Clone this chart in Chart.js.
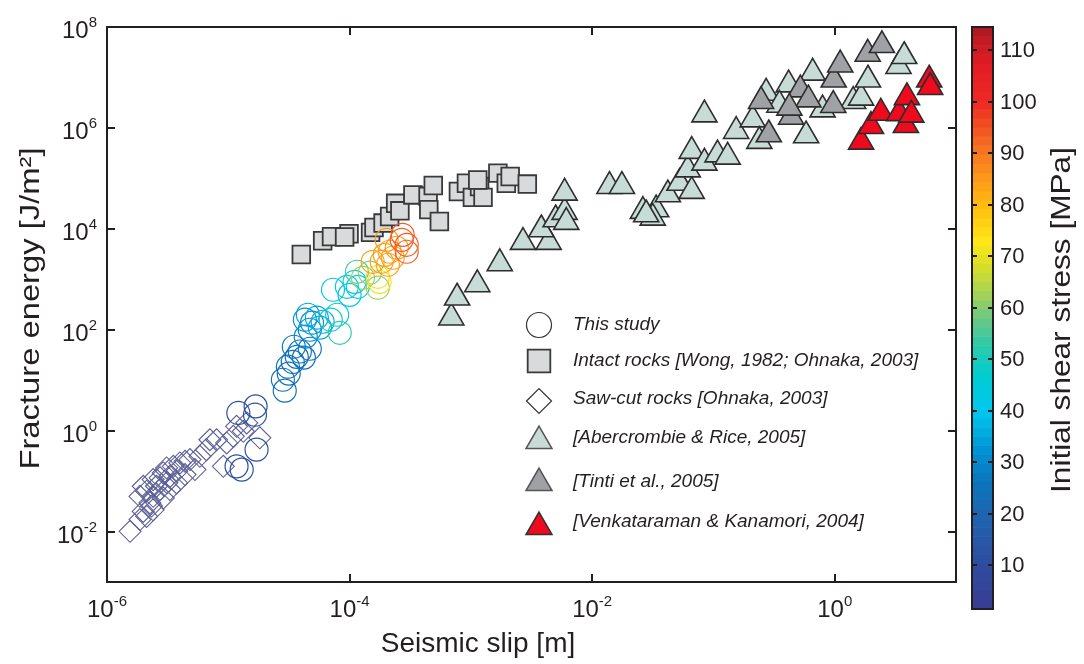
<!DOCTYPE html>
<html lang="en">
<head>
<meta charset="UTF-8">
<title>Fracture energy vs seismic slip</title>
<script src="https://cdn.jsdelivr.net/npm/chart.js@4.4.1/dist/chart.umd.min.js"></script>
<style>
  html, body { margin: 0; padding: 0; background: #fff; }
  #wrap { position: relative; width: 1084px; height: 664px; }
  #main { position: absolute; left: 0; top: 0; }
  #cbar { position: absolute; left: 940px; top: 0; }
</style>
</head>
<body>
<div id="wrap">
  <canvas id="main" width="1084" height="664"></canvas>
  <canvas id="cbar" width="144" height="664"></canvas>
</div>
<script>
/************  DATA  ************/
// This study (circles, coloured by initial shear stress)
const studySlip = [1.21e-5, 1.68e-5, 1.66e-5, 1.71e-5, 1.17e-5, 1.29e-5,
  2.92e-5, 2.82e-5, 3.15e-5, 3.10e-5, 3.40e-5, 3.67e-5, 3.89e-5, 4.2e-5, 3.47e-5, 4.7e-5,
  4.35e-5, 4.7e-5, 4.28e-5, 4.9e-5,
  4.53e-5, 5.37e-5, 5.69e-5, 6.0e-5,
  7.3e-5, 7.9e-5, 9.5e-5, 1.0e-4, 1.1e-4, 1.17e-4,
  7.0e-5, 8.3e-5, 1.15e-4,
  1.47e-4, 1.71e-4, 1.29e-4,
  1.71e-4, 1.77e-4,
  1.55e-4, 1.95e-4, 2.14e-4, 2.27e-4, 2.02e-4, 2.45e-4, 2.07e-4, 1.84e-4,
  2.74e-4, 2.96e-4, 2.69e-4, 2.96e-4];
const studyEnergy = [2.24, 3.03, 2.07, 0.42, 0.196, 0.169,
  6.2, 10.2, 13.5, 18.5, 23, 29, 37, 28, 46, 42,
  73, 100, 158, 138,
  198, 173, 110, 144,
  620, 198, 710, 490, 890, 710,
  158, 87, 1410,
  1350, 680, 1070,
  1120, 890,
  2220, 3050, 3510, 2670, 6050, 4210, 1940, 2220,
  7600, 4820, 6050, 3510];
const studyStress = [12, 12, 12, 12, 12, 12,
  24, 24, 24, 24, 24, 24, 26, 26, 27, 27,
  30, 30, 32, 32,
  35, 35, 36, 36,
  42, 42, 42, 43, 43, 43,
  49, 53, 55,
  61, 62, 62,
  72, 72,
  84, 84, 84, 84, 85, 85, 84, 84,
  94, 94, 93, 93];

// Intact rocks [Wong, 1982; Ohnaka, 2003]
const intactSlip = [4.0e-5, 6.0e-5, 7.1e-5, 9.9e-5, 9.1e-5, 1.49e-4, 1.59e-4, 1.89e-4, 2.14e-4,
  2.40e-4, 2.6e-4, 3.33e-4, 4.44e-4, 4.9e-4, 4.5e-4, 5.5e-4, 7.9e-4, 9.2e-4, 1.03e-3,
  1.18e-3, 1.26e-3, 1.67e-3, 1.96e-3, 2.11e-3, 2.92e-3, 1.14e-3];
const intactEnergy = [3.1e3, 5.8e3, 7.0e3, 8.0e3, 6.9e3, 8.5e3, 1.06e4, 1.30e4, 1.75e4,
  3.2e4, 2.27e4, 4.7e4, 4.4e4, 7.2e4, 2.4e4, 1.40e4, 5.5e4, 8.0e4, 4.2e4,
  6.9e4, 4.2e4, 1.27e5, 8.0e4, 1.09e5, 7.7e4, 9.3e4];

// Saw-cut rocks [Ohnaka, 2003]
const sawcutSlip = [1.55e-6, 1.87e-6, 1.99e-6, 2.12e-6, 2.26e-6, 2.40e-6, 2.56e-6, 2.74e-6,
  2.91e-6, 3.10e-6, 3.30e-6, 3.52e-6, 3.75e-6, 3.99e-6, 4.40e-6, 4.83e-6, 2.40e-6, 2.91e-6,
  2.12e-6, 2.33e-6, 3.30e-6, 3.75e-6, 5.83e-6, 6.6e-6, 7.05e-6, 8.0e-6, 9.1e-6, 9.7e-6,
  1.10e-5, 1.17e-5, 1.33e-5, 1.42e-5, 1.82e-5, 1.87e-6, 1.99e-6, 2.40e-6,
  2.74e-6, 4.40e-6, 5.31e-6, 3.12e-6];
const sawcutEnergy = [1.01e-2, 1.73e-2, 2.5e-2, 6.3e-2, 3.7e-2, 5.0e-2, 7.9e-2, 0.116,
  0.145, 0.182, 0.124, 0.196, 0.156, 0.229, 0.247, 0.267, 2.7e-2, 4.6e-2,
  2.0e-2, 3.2e-2, 6.8e-2, 9.2e-2, 0.31, 0.42, 0.66, 0.66, 0.196, 0.57,
  0.77, 1.22, 0.97, 1.42, 0.72, 5.0e-2, 7.9e-2, 0.107,
  6.8e-2, 0.135, 0.169, 9.3e-2];

// [Abercrombie & Rice, 2005]
const abercrombieSlip = [6.9e-4, 7.7e-4, 1.13e-3, 1.73e-3, 2.69e-3, 4.38e-3, 3.81e-3, 5.0e-3,
  5.93e-3, 5.93e-3, 6.12e-3, 1.39e-2, 1.76e-2, 3.37e-2, 3.16e-2, 2.62e-2, 2.79e-2, 4.21e-2,
  5.25e-2, 6.62e-2, 6.14e-2, 6.62e-2, 8.43e-2, 8.43e-2, 0.108, 0.131, 0.154, 0.211, 0.239,
  0.272, 0.417, 0.581, 0.658, 0.794, 1.42, 1.65, 1.88, 3.36, 3.74, 0.350];
const abercrombieEnergy = [173, 430, 790, 2060, 5460, 5460, 9700, 1.53e4,
  2.14e4, 5.16e4, 1.36e4, 7.0e4, 7.0e4, 2.41e4, 1.65e4, 2.24e4, 1.92e4, 4.78e4,
  8.1e4, 5.58e4, 1.49e5, 3.46e5, 1.83e6, 2.03e5, 2.96e5, 2.67e5, 8.6e5, 1.46e6, 5.46e5,
  4.93e6, 7.2e6, 7.05e5, 1.23e7, 2.30e6, 3.38e6, 3.93e6, 9.0e6, 1.67e7, 2.63e7, 2.85e6];

// [Tinti et al., 2005]
const tintiSlip = [0.247, 0.286, 0.437, 0.521, 0.607, 0.973, 0.98, 1.11, 1.87, 2.45, 0.423];
const tintiEnergy = [3.38e6, 7.4e5, 1.65e6, 5.73e6, 3.63e6, 2.82e6, 9.0e6, 1.79e7, 2.92e7, 4.34e7, 2.49e6];

// [Venkataraman & Kanamori, 2004]
const venkSlip = [1.65, 1.99, 2.40, 3.40, 3.86, 3.94, 6.01, 6.12, 4.28];
const venkEnergy = [5.28e5, 1.08e6, 1.98e6, 1.94e6, 1.13e6, 4.02e6, 9.0e6, 6.4e6, 1.81e6];

// axes
const xTicks = [1e-6, 1e-4, 1e-2, 1];
const yTicks = [1e-2, 1, 1e2, 1e4, 1e6, 1e8];
const xMin = 1e-6, xMax = 10;
const yMin = 1e-3, yMax = 1e8;
const cbTicks = [10, 20, 30, 40, 50, 60, 70, 80, 90, 100, 110];
const cbMin = 1.5, cbMax = 114.5;

const legendLabels = [
  'This study',
  'Intact rocks [Wong, 1982; Ohnaka, 2003]',
  'Saw-cut rocks [Ohnaka, 2003]',
  '[Abercrombie & Rice, 2005]',
  '[Tinti et al., 2005]',
  '[Venkataraman & Kanamori, 2004]'
];

/************  COLOUR MAP  ************/
const cmapStops = [
  [1, '#3a3b8f'], [10, '#2f4c9f'], [20, '#1e64b0'], [27, '#0a78c0'], [33, '#0096d6'],
  [40, '#00c8ef'], [47, '#00cdd0'], [53, '#2fcaa8'], [58, '#6cc884'], [63, '#a8d254'],
  [68, '#d8de28'], [73, '#ffe617'], [79, '#ffc20e'], [85, '#fb9a1a'], [92, '#f56a22'],
  [100, '#ee2a24'], [107, '#e31c24'], [112, '#c41a25'], [115, '#9e1a1f']
];
function hexRgb(h) {
  return [parseInt(h.slice(1, 3), 16), parseInt(h.slice(3, 5), 16), parseInt(h.slice(5, 7), 16)];
}
function cmap(v) {
  if (v <= cmapStops[0][0]) return cmapStops[0][1];
  for (let i = 1; i < cmapStops.length; i++) {
    if (v <= cmapStops[i][0]) {
      const [v0, c0] = cmapStops[i - 1], [v1, c1] = cmapStops[i];
      const t = (v - v0) / (v1 - v0);
      const a = hexRgb(c0), b = hexRgb(c1);
      return `rgb(${a.map((k, j) => Math.round(k + (b[j] - k) * t)).join(',')})`;
    }
  }
  return cmapStops[cmapStops.length - 1][1];
}

const pts = (xs, ys) => xs.map((x, i) => ({ x, y: ys[i] }));

const FONT = '"Liberation Sans", Arial, Helvetica, sans-serif';
const INK = '#231f20';

/************  PLUGINS  ************/
function drawPow(ctx, exp, x, y, align) {
  const base = `24px ${FONT}`, sup = `15px ${FONT}`;
  ctx.font = base;
  const w1 = ctx.measureText('10').width;
  ctx.font = sup;
  const w2 = ctx.measureText(exp).width;
  const left = align === 'center' ? x - (w1 + w2) / 2 : x - (w1 + w2);
  ctx.textAlign = 'left';
  ctx.textBaseline = 'alphabetic';
  ctx.font = base;
  ctx.fillText('10', left, y);
  ctx.font = sup;
  ctx.fillText(exp, left + w1, y - 11);
}

// rotated title, a little stretched along its length like the original
function drawVertical(ctx, text, cx, cy, font) {
  ctx.save();
  ctx.translate(cx, cy);
  ctx.rotate(-Math.PI / 2);
  ctx.scale(1.17, 1);
  ctx.font = font;
  ctx.textAlign = 'center';
  ctx.textBaseline = 'middle';
  ctx.fillText(text, 0, 0);
  ctx.restore();
}

const frameAndLabels = {
  id: 'frameAndLabels',
  afterDatasetsDraw(chart) {
    const { ctx, chartArea: a, scales: { x, y } } = chart;
    ctx.save();
    ctx.strokeStyle = INK;
    ctx.fillStyle = INK;
    ctx.lineWidth = 2;
    ctx.strokeRect(a.left, a.top, a.right - a.left, a.bottom - a.top);

    // inward ticks on all four sides
    const tl = 8;
    ctx.beginPath();
    xTicks.forEach(v => {
      const px = Math.round(x.getPixelForValue(v));
      ctx.moveTo(px, a.bottom); ctx.lineTo(px, a.bottom - tl);
      ctx.moveTo(px, a.top); ctx.lineTo(px, a.top + tl);
    });
    yTicks.forEach(v => {
      const py = Math.round(y.getPixelForValue(v));
      ctx.moveTo(a.left, py); ctx.lineTo(a.left + tl, py);
      ctx.moveTo(a.right, py); ctx.lineTo(a.right - tl, py);
    });
    ctx.stroke();

    // tick labels
    xTicks.forEach(v => {
      drawPow(ctx, String(Math.round(Math.log10(v))), x.getPixelForValue(v), a.bottom + 35, 'center');
    });
    yTicks.forEach(v => {
      drawPow(ctx, String(Math.round(Math.log10(v))), a.left - 10, y.getPixelForValue(v) + 11, 'right');
    });

    // axis titles
    ctx.font = `28px ${FONT}`;
    ctx.textAlign = 'center';
    ctx.textBaseline = 'alphabetic';
    ctx.fillText('Seismic slip [m]', 478, 652);
    drawVertical(ctx, 'Fracture energy [J/m\u00b2]', 31, (a.top + a.bottom) / 2 + 4, `28px ${FONT}`);
    ctx.restore();
  }
};

const insetLegend = {
  id: 'insetLegend',
  afterDraw(chart) {
    const { ctx } = chart;
    const mx = 539, tx = 573;
    const rows = [
      { my: 325, ty: 325, r: 12.5, fill: 'rgba(0,0,0,0)', stroke: '#333', style: 'circle', bw: 1.2 },
      { my: 361, ty: 361, r: 16, fill: '#d9dadb', stroke: '#3a3a3a', style: 'rect', bw: 1.8 },
      { my: 401, ty: 399, r: 12.5, fill: '#fff', stroke: '#333', style: 'rectRot', bw: 1.2 },
      { my: 441, ty: 438, r: 15, fill: '#c8dcd7', stroke: '#555', style: 'triangle', bw: 1.5 },
      { my: 483, ty: 482, r: 15, fill: '#9fa1a4', stroke: '#555', style: 'triangle', bw: 1.5 },
      { my: 527, ty: 522, r: 15, fill: '#f00a1e', stroke: '#333', style: 'triangle', bw: 1.5 }
    ];
    ctx.save();
    rows.forEach((row, i) => {
      ctx.fillStyle = row.fill;
      ctx.strokeStyle = row.stroke;
      ctx.lineWidth = row.bw;
      Chart.helpers.drawPoint(ctx, { pointStyle: row.style, radius: row.r, rotation: 0, borderWidth: row.bw }, mx, row.my);
      ctx.fillStyle = INK;
      ctx.font = `italic 19px ${FONT}`;
      ctx.textAlign = 'left';
      ctx.textBaseline = 'middle';
      ctx.fillText(legendLabels[i], tx, row.ty);
    });
    ctx.restore();
  }
};

/************  MAIN CHART  ************/
new Chart(document.getElementById('main'), {
  type: 'scatter',
  data: {
    datasets: [
      {
        label: legendLabels[0],
        data: pts(studySlip, studyEnergy),
        pointStyle: 'circle',
        pointRadius: 11.5,
        borderWidth: 1.2,
        backgroundColor: 'rgba(0,0,0,0)',
        pointBorderColor: studyStress.map(cmap)
      },
      {
        label: legendLabels[5],
        data: pts(venkSlip, venkEnergy),
        pointStyle: 'triangle',
        pointRadius: 14.5,
        borderWidth: 1.6,
        backgroundColor: '#f00a1e',
        borderColor: '#2d2d2d'
      },
      {
        label: legendLabels[4],
        data: pts(tintiSlip, tintiEnergy),
        pointStyle: 'triangle',
        pointRadius: 14.5,
        borderWidth: 1.6,
        backgroundColor: '#9fa1a4',
        borderColor: '#2d2d2d'
      },
      {
        label: legendLabels[3],
        data: pts(abercrombieSlip, abercrombieEnergy),
        pointStyle: 'triangle',
        pointRadius: 14.5,
        borderWidth: 1.6,
        backgroundColor: '#c8dcd7',
        borderColor: '#2d2d2d'
      },
      {
        label: legendLabels[1],
        data: pts(intactSlip, intactEnergy),
        pointStyle: 'rect',
        pointRadius: 12.5,
        borderWidth: 1.8,
        backgroundColor: '#d9dadb',
        borderColor: '#3a3a3a'
      },
      {
        label: legendLabels[2],
        data: pts(sawcutSlip, sawcutEnergy),
        pointStyle: 'rectRot',
        pointRadius: 11,
        borderWidth: 1.1,
        backgroundColor: 'rgba(0,0,0,0)',
        borderColor: '#5d5f96'
      }
    ]
  },
  options: {
    responsive: false,
    animation: false,
    events: [],
    layout: { padding: { left: 107, top: 27, right: 128, bottom: 82 } },
    plugins: { legend: { display: false }, tooltip: { enabled: false } },
    scales: {
      x: { type: 'logarithmic', min: xMin, max: xMax, display: false },
      y: { type: 'logarithmic', min: yMin, max: yMax, display: false }
    }
  },
  plugins: [frameAndLabels, insetLegend]
});

/************  COLOUR BAR  ************/
const colorbarPlugin = {
  id: 'colorbar',
  afterDraw(chart) {
    const { ctx, chartArea: a, scales: { y } } = chart;
    ctx.save();
    const steps = 64;
    const dv = (cbMax - cbMin) / steps;
    for (let i = 0; i < steps; i++) {
      const v0 = cbMin + i * dv, v1 = v0 + dv;
      const p0 = y.getPixelForValue(v0), p1 = y.getPixelForValue(v1);
      ctx.fillStyle = cmap(v0 + dv / 2);
      ctx.fillRect(a.left, p1, a.right - a.left, p0 - p1 + 0.6);
    }
    ctx.strokeStyle = INK;
    ctx.lineWidth = 2;
    ctx.strokeRect(a.left, a.top, a.right - a.left, a.bottom - a.top);
    ctx.beginPath();
    cbTicks.forEach(v => {
      const py = Math.round(y.getPixelForValue(v));
      ctx.moveTo(a.left, py); ctx.lineTo(a.left + 5, py);
      ctx.moveTo(a.right, py); ctx.lineTo(a.right - 5, py);
    });
    ctx.stroke();
    ctx.fillStyle = INK;
    ctx.font = `22px ${FONT}`;
    ctx.textAlign = 'left';
    ctx.textBaseline = 'middle';
    cbTicks.forEach(v => ctx.fillText(String(v), a.right + 7, y.getPixelForValue(v) + 1));
    drawVertical(ctx, 'Initial shear stress [MPa]', 123, 320, `27px ${FONT}`);
    ctx.restore();
  }
};

new Chart(document.getElementById('cbar'), {
  type: 'scatter',
  data: { datasets: [] },
  options: {
    responsive: false,
    animation: false,
    events: [],
    layout: { padding: { left: 32, right: 91, top: 27, bottom: 55 } },
    plugins: { legend: { display: false }, tooltip: { enabled: false } },
    scales: {
      x: { display: false, min: 0, max: 1 },
      y: { display: false, min: cbMin, max: cbMax }
    }
  },
  plugins: [colorbarPlugin]
});
</script>
</body>
</html>
